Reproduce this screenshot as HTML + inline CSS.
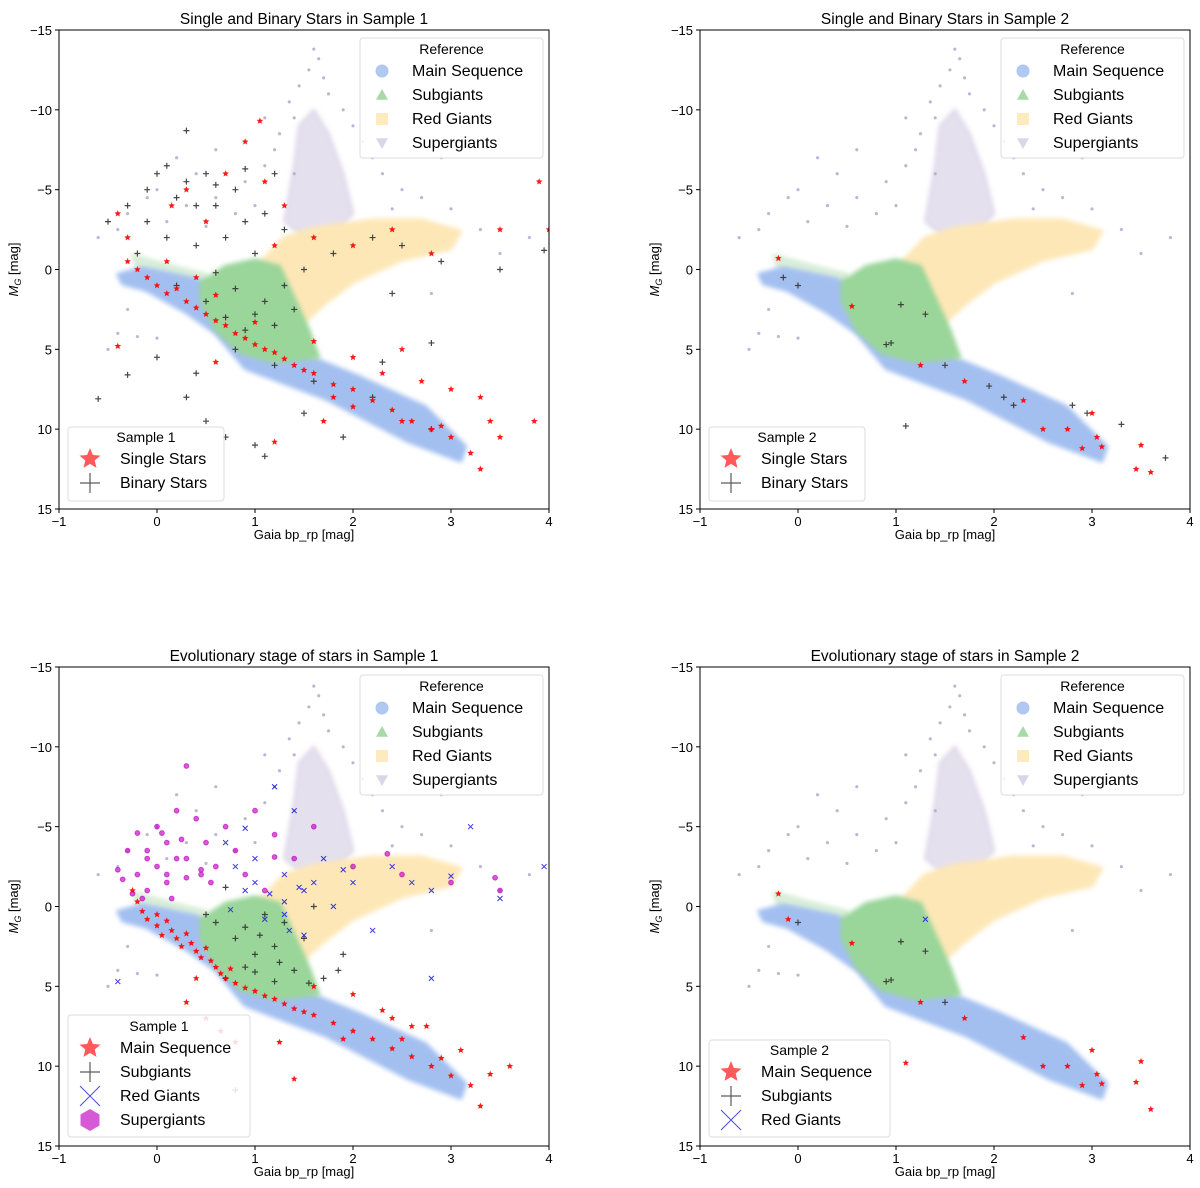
<!DOCTYPE html>
<html><head><meta charset="utf-8">
<style>
body{margin:0;background:#fff;}
svg{display:block;font-family:"Liberation Sans",sans-serif;}
</style></head>
<body>
<svg id="fig" width="1200" height="1188" viewBox="0 0 1200 1188" xmlns="http://www.w3.org/2000/svg"></svg>
<script>
// ---------- DATA ----------
const xTicks=[-1,0,1,2,3,4];
const yTicks=[-15,-10,-5,0,5,10,15];
const titles=["Single and Binary Stars in Sample 1","Single and Binary Stars in Sample 2","Evolutionary stage of stars in Sample 1","Evolutionary stage of stars in Sample 2"];
// Reference density regions [bp_rp, M_G]
const msRegion=[[-0.4,0.3],[-0.15,-0.1],[0.1,0.2],[0.4,0.6],[0.6,1.3],[1.0,3.0],[1.38,5.0],[2.06,6.7],[2.74,8.6],[3.15,11.1],[3.1,12.0],[2.57,10.8],[1.72,8.1],[0.9,6.2],[0.6,4.0],[0.3,2.7],[-0.11,1.3],[-0.35,0.9]];
const sgRegion=[[0.45,0.8],[0.7,-0.2],[1.0,-0.6],[1.25,-0.2],[1.4,1.8],[1.55,3.8],[1.65,5.5],[1.2,5.8],[0.85,5.2],[0.6,3.8],[0.45,2.0]];
const sgTail=[[-0.25,-0.9],[0.1,-0.3],[0.5,0.3],[0.5,0.9],[0.1,0.4],[-0.2,0]];
const rgRegion=[[1.05,-0.4],[1.3,-2.0],[1.6,-2.6],[2.2,-3.1],[2.7,-3.1],[3.1,-2.4],[3.0,-1.3],[2.5,-0.6],[2.0,0.8],[1.7,2.2],[1.45,3.6],[1.3,2.0],[1.1,0.6]];
const supRegion=[[1.3,-3],[1.4,-6.5],[1.45,-9],[1.6,-10],[1.75,-8.5],[1.9,-6],[2.0,-3.5],[1.8,-2.2],[1.5,-2.0]];
const supPts=[[1.6,-13.8],[1.65,-13.2],[1.55,-12.5],[1.7,-12],[1.45,-11.5],[1.75,-11],[1.35,-10.5],[1.9,-10],[1.4,-9.5],[2.0,-9],[1.25,-8.5],[2.1,-8],[1.2,-7.5],[2.2,-7],[1.1,-6.5],[2.3,-6],[0.4,-6],[0.2,-7],[0.6,-7.5],[0.9,-5.5],[2.5,-5],[0.6,-4.5],[2.7,-4.5],[-0.3,-3.5],[-0.1,-4.5],[0.1,-3],[0.3,-4],[0.8,-3.5],[1.0,-4],[2.4,-3.8],[3.0,-3.8],[-0.6,-2],[-0.4,-2.5],[-0.3,2.5],[-0.5,5],[-0.4,4],[-0.2,4.2],[0,4.3],[3.5,-1],[3.8,-2],[3.3,-2.5],[2.8,1.5],[1.1,-9.5],[1.4,-6],[0,-5],[0.5,-2.7],[2.9,-7]];
// Sample 1 single stars (red stars)
const s1Single=[[-0.4,-3.5],[-0.3,-2],[-0.3,-0.5],[-0.2,0],[-0.1,0.5],[0,1],[0.1,1.5],[0.2,1.2],[0.3,2],[0.4,2.4],[0.5,2.8],[0.6,3.2],[0.7,3.5],[0.8,4],[0.9,4.3],[1,4.7],[1.1,5],[1.2,5.2],[1.3,5.6],[1.4,6],[1.5,6.3],[1.6,6.5],[1.8,7.2],[2,7.5],[2.2,8.2],[2.4,8.8],[2.6,9.5],[2.8,10],[3,10.5],[3.2,11.5],[3.3,12.5],[3.5,10.5],[3.85,9.5],[2.3,6.5],[2.7,7],[3,7.5],[3.3,8],[2.5,5],[2,5.5],[1.6,4.5],[0.3,-5],[0.7,-6],[1.1,-5.5],[0.9,-8],[1.05,-9.3],[1.3,-4],[1.6,-2],[2,-1.5],[2.4,-2.5],[2.8,-1],[3.5,-2.5],[3.9,-5.5],[4,-2.5],[0.5,-3],[0.15,-4],[1.2,-1.5],[0.4,0.5],[-0.4,4.8],[1.2,10.8],[0.6,5.8],[1.7,9.5],[2.9,9.8],[3.4,9.5],[0.1,-0.5],[0.6,1.6],[1.0,3.3],[1.8,8.0],[2.5,9.5],[2.0,8.6]];
// Sample 1 binary stars (black plus)
const s1Binary=[[-0.5,-3],[-0.3,-4],[-0.1,-5],[0,-6],[0.2,-4.5],[0.3,-5.5],[0.5,-6],[0.6,-4],[0.8,-5],[0.9,-3],[1.1,-3.5],[1.3,-2.5],[1.2,-6],[0.3,-8.7],[0.1,-2],[-0.2,-1],[0.4,-1.5],[0.7,-2],[0.2,1],[0.5,2],[0.7,3],[0.9,3.8],[1.1,2],[1.3,1],[1.5,0],[1.8,-1],[2.2,-2],[2.5,-1.5],[2.9,-0.5],[3.5,0],[3.95,-1.2],[2.4,1.5],[0.8,5],[1.2,6],[1.6,7],[2.2,8],[2.8,10],[-0.3,6.6],[-0.6,8.1],[0.3,8],[0.5,9.5],[1,11],[1.1,11.7],[0.7,10.5],[1.5,9],[2.8,4.6],[0.4,6.5],[0,5.5],[2.3,5.8],[1.9,10.5],[-0.1,-3],[0.1,-6.5],[0.4,-4],[0.6,-5.3],[0.9,-6.3],[1.0,2.8],[0.8,1.2],[1.2,3.5],[1.4,2.5],[1.0,-1],[0.6,0.2]];
// Sample 2 single & binary
const s2Single=[[-0.2,-0.7],[0.55,2.3],[1.25,6],[1.7,7],[2.3,8.2],[2.75,10],[3,9],[3.05,10.5],[3.1,11.1],[3.5,11],[3.45,12.5],[3.6,12.7],[2.5,10],[2.9,11.2]];
const s2Binary=[[-0.15,0.5],[0,1],[0.95,4.6],[0.9,4.7],[1.05,2.2],[1.3,2.8],[1.5,6],[1.95,7.3],[2.2,8.5],[2.8,8.5],[2.95,9],[3.3,9.7],[3.75,11.8],[1.1,9.8],[2.1,8]];
// Sample 1 evolutionary stages
const e1MS=[[-0.25,-1.0],[-0.2,-0.3],[-0.15,0.3],[-0.1,0.8],[0,0.5],[0,1.2],[0.05,1.8],[0.1,0.9],[0.15,1.5],[0.2,2],[0.25,2.5],[0.3,1.7],[0.35,2.3],[0.4,2.8],[0.45,3.2],[0.5,2.6],[0.55,3.4],[0.6,3.8],[0.65,4.2],[0.7,4.5],[0.75,3.9],[0.8,4.8],[0.9,5.1],[1,5.3],[1.1,5.6],[1.2,5.8],[1.3,6.1],[1.4,6.4],[1.5,6.6],[1.6,6.8],[1.8,7.3],[2,7.8],[2.2,8.3],[2.4,8.9],[2.6,9.4],[2.8,10],[3,10.6],[3.2,11.2],[3.3,12.5],[3.4,10.5],[3.6,10],[3.1,9],[2.6,7.5],[2.3,6.5],[2,5.5],[1.6,5],[0.5,7],[0.8,8.5],[1.4,10.8],[0.3,6],[0.4,4.5],[1.9,8.3],[2.5,8.3],[2.9,9.5],[2.4,7],[2.75,7.5],[1.25,8.5],[0.65,7.8]];
const e1SG=[[0.6,1],[0.8,2],[1,3],[1.2,2.5],[1.3,1],[1.1,0.5],[0.9,3.8],[1.4,4],[1.5,2],[1.6,0],[1.7,4.5],[1.9,3],[0.7,4.5],[1.2,4.7],[0.8,11.5],[0.7,-1.2],[0.9,1.3],[1.05,1.8],[1.25,3.5],[1.55,4.8],[1.85,4.0],[1.0,4.1],[0.5,0.5]];
const e1RG=[[1.2,-7.5],[1.4,-6],[0.7,-4],[1,-3],[1.3,-2],[1.5,-1],[1.6,-1.5],[1.8,0],[2,-1.5],[2.2,1.5],[2.4,-2.5],[2.8,-1],[3,-1.9],[3.5,-0.5],[3.95,-2.5],[3.2,-5],[2.8,4.5],[1.1,0.8],[0.9,-1],[1.7,-3],[-0.4,4.7],[2.6,-1.5],[1.9,-2.3],[1.3,0.5],[0.8,-2.5],[1.0,-1.5],[1.15,-0.8],[1.3,-0.3],[1.45,-1.2],[0.75,0.2],[1.35,1.5],[1.5,1.8],[0.9,-4.9]];
const e1SUP=[[-0.4,-2.3],[-0.35,-1.7],[-0.3,-3.5],[-0.25,-0.8],[-0.2,-2],[-0.15,-0.5],[-0.1,-1],[-0.1,-3.5],[0,-5],[0,-2.5],[0.1,-4],[0.1,-1.5],[0.2,-6],[0.2,-3],[0.3,-3],[0.3,-1.8],[0.4,-5.5],[0.45,-2.3],[0.5,-4],[0.6,-2.5],[0.7,-5],[0.8,-3.5],[0.9,-2],[1,-6],[1.2,-4.5],[1.4,-3],[1.6,-5],[2,-2.5],[2.5,-2],[3,-1.5],[3.5,-1],[0.3,-8.8],[0.1,-2],[0.55,-1.5],[-0.1,-3],[0.15,-0.5],[0.45,-2],[1.1,-1],[0.05,-4.6],[0.25,-4.2],[-0.2,-4.6],[3.45,-1.8],[2.35,-3.3],[1.2,-3.1]];
// Sample 2 evolutionary stages
const e2MS=[[-0.2,-0.8],[-0.1,0.8],[0.55,2.3],[1.25,6],[1.7,7],[2.3,8.2],[2.75,10],[3,9],[3.05,10.5],[3.1,11.1],[3.5,9.7],[3.45,11],[3.6,12.7],[2.5,10],[2.9,11.2],[1.1,9.8]];
const e2SG=[[0,1],[0.95,4.6],[1.05,2.2],[1.3,2.8],[0.9,4.7],[1.5,6]];
const e2RG=[[1.3,0.8]];
// ---------- DRAW ----------
const NS="http://www.w3.org/2000/svg";
const svg=document.getElementById('fig');
const defs=document.createElementNS(NS,'defs');svg.appendChild(defs);
defs.innerHTML='<filter id="soft" x="-10%" y="-10%" width="120%" height="120%"><feGaussianBlur stdDeviation="2.5"/></filter>';
const panels=[{x0:59,y0:30},{x0:700,y0:30},{x0:59,y0:667},{x0:700,y0:667}];
const W=490,H=479;
function X(v,p){return p.x0+(v+1)/5*W;}
function Y(v,p){return p.y0+(v+15)/30*H;}
function mk(tag,attrs,parent){const e=document.createElementNS(NS,tag);for(const k in attrs)e.setAttribute(k,attrs[k]);(parent||svg).appendChild(e);return e;}
function txt(s,x,y,size,anchor,parent){const t=mk('text',{x:x,y:y,'font-size':size,'text-anchor':anchor||'start',fill:'#000'},parent);t.textContent=s;return t;}
function starPts(cx,cy,r){let s=[];for(let i=0;i<10;i++){const a=-Math.PI/2+i*Math.PI/5;const rr=i%2?r*0.45:r;s.push((cx+rr*Math.cos(a)).toFixed(1)+','+(cy+rr*Math.sin(a)).toFixed(1));}return s.join(' ');}
function marker(g,type,x,y,s,color,op){
  if(type==='star'){const e=mk('polygon',{points:starPts(x,y,s),fill:color,'fill-opacity':op},g);}
  else if(type==='plus'){const e=mk('path',{d:`M${x-s} ${y}H${x+s}M${x} ${y-s}V${y+s}`,stroke:color,'stroke-width':1.2,'stroke-opacity':op},g);}
  else if(type==='x'){const e=mk('path',{d:`M${x-s} ${y-s}L${x+s} ${y+s}M${x-s} ${y+s}L${x+s} ${y-s}`,stroke:color,'stroke-width':1,'stroke-opacity':op},g);}
  else if(type==='circle'){const e=mk('circle',{cx:x,cy:y,r:s,fill:color,'fill-opacity':op,stroke:color,'stroke-opacity':op},g);}
  else if(type==='hex'){let s2=[];for(let i=0;i<6;i++){const a=Math.PI/6+i*Math.PI/3;s2.push((x+s*Math.cos(a)).toFixed(1)+','+(y+s*Math.sin(a)).toFixed(1));}const e=mk('polygon',{points:s2.join(' '),fill:color,'fill-opacity':op},g);}
  else if(type==='tri'||type==='tridown'||type==='sq'){let pts;if(type==='tri')pts=`${x},${y-s} ${x+s},${y+s*0.8} ${x-s},${y+s*0.8}`;else if(type==='tridown')pts=`${x},${y+s} ${x+s},${y-s*0.8} ${x-s},${y-s*0.8}`;else pts=`${x-s},${y-s} ${x+s},${y-s} ${x+s},${y+s} ${x-s},${y+s}`;const e=mk('polygon',{points:pts,fill:color,'fill-opacity':op},g);}
}
function region(g,arr,p,color,name,op){const e=mk('polygon',{points:arr.map(d=>X(d[0],p).toFixed(1)+','+Y(d[1],p).toFixed(1)).join(' '),fill:color,'fill-opacity':op,stroke:color,'stroke-opacity':op,'stroke-width':3,'stroke-linejoin':'round',filter:'url(#soft)'},g);}
function series(g,arr,p,type,s,color,op){arr.forEach(d=>marker(g,type,X(d[0],p),Y(d[1],p),s,color,op));}
function legend(g,x,y,w,h,title,entries,tY,rowH,size){
  const b=mk('rect',{x:x,y:y,width:w,height:h,rx:3,fill:'#fff','fill-opacity':0.85,stroke:'#ddd'},g);
  
  const t=txt(title,x+w/2,tY,14,'middle',g);
  entries.forEach((en,i)=>{const yy=tY+22+i*rowH;marker(g,en[0],x+22,yy-5,en[3],en[1],en[2]);const l=txt(en[4],x+52,yy,size,'start',g);});
}
panels.forEach((p,i)=>{
  const g=mk('g',{});
  const cp=mk('clipPath',{id:'c'+i},g);mk('rect',{x:p.x0,y:p.y0,width:W,height:H},cp);
  const pg=mk('g',{'clip-path':`url(#c${i})`},g);
  region(pg,supRegion,p,'#cfc6e0','supergiant-cloud',0.55);
  region(pg,sgTail,p,'#b8e0b8','subgiant-tail',0.5);
  region(pg,rgRegion,p,'#fde7b6','red-giant-cloud',1);
  region(pg,msRegion,p,'#a3bff0','main-sequence-cloud',1);
  region(pg,sgRegion,p,'#9ad59a','subgiant-cloud',1);
  series(pg,supPts,p,'circle',1.1,'#b4aad0',0.8);
  if(i===0){series(pg,s1Binary,p,'plus',3,'#333',0.9);series(pg,s1Single,p,'star',3.5,'#f00',0.9);}
  if(i===1){series(pg,s2Binary,p,'plus',3,'#333',0.9);series(pg,s2Single,p,'star',3.5,'#f00',0.9);}
  if(i===2){series(pg,e1SUP,p,'circle',2.4,'#c000c0',0.65);series(pg,e1SG,p,'plus',3,'#333',0.9);series(pg,e1RG,p,'x',2.5,'#2020e0',0.9);series(pg,e1MS,p,'star',3.5,'#f00',0.9);}
  if(i===3){series(pg,e2SG,p,'plus',3,'#333',0.9);series(pg,e2RG,p,'x',2.5,'#2020e0',0.9);series(pg,e2MS,p,'star',3.5,'#f00',0.9);}
  const fr=mk('rect',{x:p.x0,y:p.y0,width:W,height:H,fill:'none',stroke:'#000','stroke-width':1},g);
  xTicks.forEach(v=>{mk('line',{x1:X(v,p),x2:X(v,p),y1:p.y0+H,y2:p.y0+H+4,stroke:'#000'},g);const t=txt(String(v).replace('-','\u2212'),X(v,p),p.y0+H+17,13,'middle',g);});
  yTicks.forEach(v=>{mk('line',{x1:p.x0-4,x2:p.x0,y1:Y(v,p),y2:Y(v,p),stroke:'#000'},g);const t=txt(String(v).replace('-','\u2212'),p.x0-7,Y(v,p)+5,13,'end',g);});
  const xl=txt('Gaia bp_rp [mag]',p.x0+W/2,p.y0+H+30,13,'middle',g);
  const yl=mk('text',{x:0,y:0,'font-size':13,'text-anchor':'middle',transform:`translate(${p.x0-41},${p.y0+H/2}) rotate(-90)`},g);
  yl.innerHTML='<tspan font-style="italic">M</tspan><tspan font-style="italic" font-size="9" dy="3">G</tspan><tspan dy="-3"> [mag]</tspan>';
  
  const tt=txt(titles[i],p.x0+W/2,p.y0-6,15.5,'middle',g);
  legend(g,p.x0+301,p.y0+8,183,120,'Reference',[['circle','#a9c2ef',0.9,6,'Main Sequence'],['tri','#9fd69f',0.9,6,'Subgiants'],['sq','#fde9b8',0.9,6,'Red Giants'],['tridown','#d6d1e6',0.9,6,'Supergiants']],p.y0+24,24,16);
  const sn=(i%2===0)?'Sample 1':'Sample 2';
  if(i<2) legend(g,p.x0+9,p.y0+397,156,74,sn,[['star','#f00',0.65,11,'Single Stars'],['plus','#333',0.8,10,'Binary Stars']],p.y0+412,24,16);
  if(i===2) legend(g,p.x0+9,p.y0+348,182,122,sn,[['star','#f00',0.65,11,'Main Sequence'],['plus','#333',0.8,10,'Subgiants'],['x','#2020e0',0.8,10,'Red Giants'],['hex','#c000c0',0.65,11,'Supergiants']],p.y0+364,24,16);
  if(i===3) legend(g,p.x0+9,p.y0+373,181,97,sn,[['star','#f00',0.65,11,'Main Sequence'],['plus','#333',0.8,10,'Subgiants'],['x','#2020e0',0.8,10,'Red Giants']],p.y0+388,24,16);
});
</script>
</body></html>
